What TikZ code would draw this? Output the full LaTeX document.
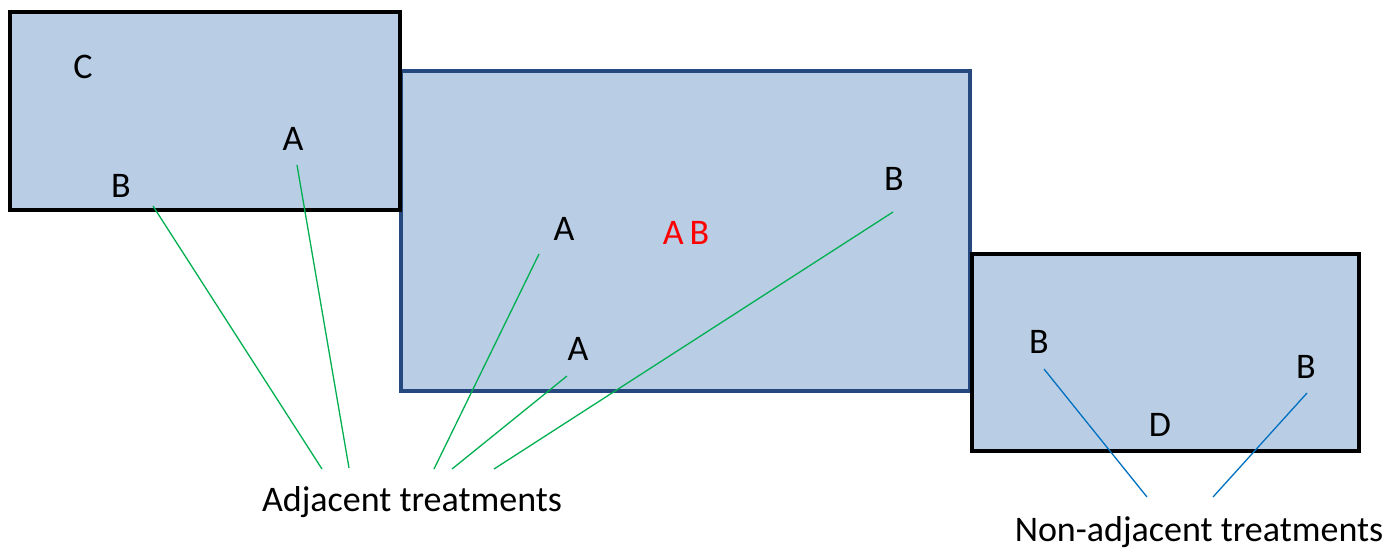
\documentclass[tikz,border=0pt]{standalone}
\usepackage{fontspec}
\setmainfont{Carlito}
\definecolor{plotfill}{HTML}{B9CDE5}
\definecolor{plotblue}{HTML}{25497F}
\definecolor{adjgreen}{HTML}{00B050}
\definecolor{nonadjblue}{HTML}{0070C0}
\tikzset{
  plot/.style={fill=plotfill, line width=3.5pt},
  lbl/.style={font=\fontsize{36}{43}\selectfont, inner sep=0pt, anchor=base},
  adj/.style={draw=adjgreen, line width=1.3pt},
  nonadj/.style={draw=nonadjblue, line width=1.3pt}
}
\begin{document}
\begin{tikzpicture}[x=1pt,y=-1pt]
\useasboundingbox (0,0) rectangle (1390,550);
% plots
\draw[plot, draw=plotblue] (401,71) rectangle (970,391);
\draw[plot, draw=black] (10,12) rectangle (400,210);
\draw[plot, draw=black] (972,254) rectangle (1359,451);
% treatments
\node[lbl] (c1) at (83,78) {C};
\node[lbl] (a1) at (293,150) {A};
\node[lbl] (b1) at (121,197) {B};
\node[lbl] (a2) at (564,240) {A};
\node[lbl, text=red] (ab) at (686,244) {A\,B};
\node[lbl] (b2) at (894,190) {B};
\node[lbl] (a3) at (578,360) {A};
\node[lbl] (b3) at (1039,353) {B};
\node[lbl] (b4) at (1306,378) {B};
\node[lbl] (d1) at (1160,436) {D};
\node[lbl] (adjtxt) at (412,511) {Adjacent treatments};
\node[lbl] (nonadjtxt) at (1199,541) {Non-adjacent treatments};
% line ends
\coordinate (pb1) at (153,206);
\coordinate (pa1) at (297,165);
\coordinate (pa2) at (539,254);
\coordinate (pa3) at (567,376);
\coordinate (pb2) at (893,212);
\coordinate (pb3) at (1044,369);
\coordinate (pb4) at (1307,393);
\coordinate (qb1) at (322,469);
\coordinate (qa1) at (349,468);
\coordinate (qa2) at (434,469);
\coordinate (qa3) at (452,469);
\coordinate (qb2) at (494,469);
\coordinate (qb3) at (1147,497);
\coordinate (qb4) at (1213,497);
\draw[adj] (pb1)--(qb1);
\draw[adj] (pa1)--(qa1);
\draw[adj] (pa2)--(qa2);
\draw[adj] (pa3)--(qa3);
\draw[adj] (pb2)--(qb2);
\draw[nonadj] (pb3)--(qb3);
\draw[nonadj] (pb4)--(qb4);
\end{tikzpicture}
\end{document}
